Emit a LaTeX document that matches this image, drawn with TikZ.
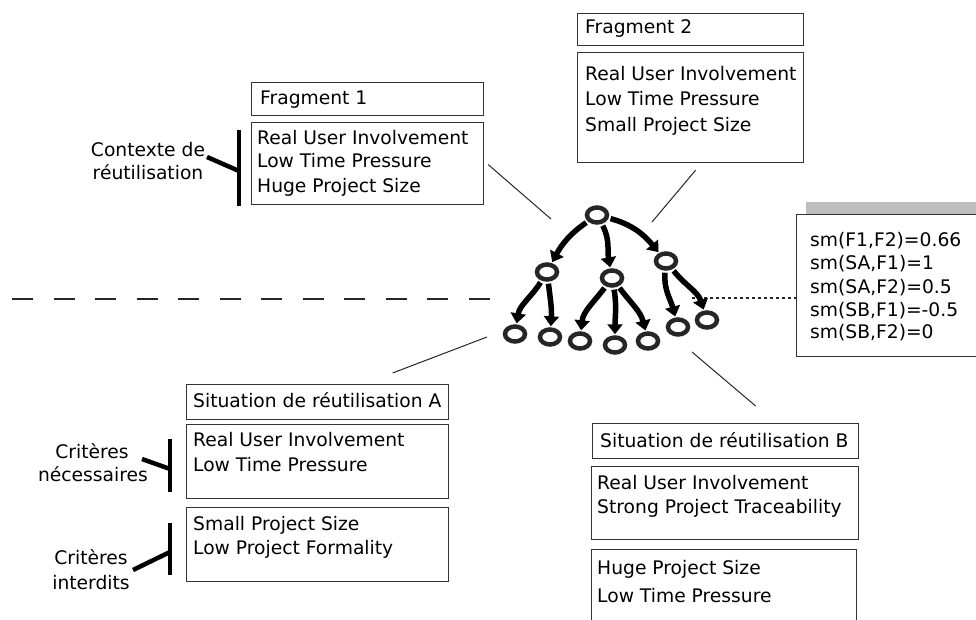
\documentclass[tikz,border=0pt]{standalone}
\usepackage{fontspec}
\setmainfont{DejaVu Sans}
\usetikzlibrary{shapes.geometric,arrows.meta,calc}
\begin{document}
\begin{tikzpicture}[x=1pt,y=1pt,
  box/.style={draw=black!80,line width=1.2pt,anchor=north west,inner sep=0pt},
  txt/.style={anchor=base west,inner sep=0pt,font=\fontsize{18.7}{22}\selectfont},
  ctxt/.style={anchor=base,inner sep=0pt,font=\fontsize{18.7}{22}\selectfont},
  ring/.style={draw=black!85,ellipse,line width=4.5pt,minimum width=20pt,minimum height=15pt,inner sep=0pt},
  tarrow/.style={line width=5.5pt,black,-{Triangle[width=15pt,length=10pt]},shorten <=2pt,shorten >=1pt},
  thinline/.style={line width=1pt,black!85},
  bracket/.style={line width=4.5pt,black}
]
\useasboundingbox (0,0) rectangle (976,-620);
\clip (0,0) rectangle (976,-620);

% ---------- Fragment 1
\node[box,minimum width=232pt,minimum height=33pt] (f1t) at (251,-82) {};
\node[box,minimum width=232pt,minimum height=82pt] (f1c) at (251,-122) {};
\node[txt] (f1tt) at (260,-104.7) {Fragment 1};
\node[txt] (f1a) at (257,-144.7) {Real User Involvement};
\node[txt] (f1b) at (257,-167.7) {Low Time Pressure};
\node[txt] (f1d) at (257,-192.7) {Huge Project Size};
\node[ctxt] (ctx1) at (148,-156.7) {Contexte de};
\node[ctxt] (ctx2) at (148,-179.7) {réutilisation};
\coordinate (b1t) at (239,-130);
\coordinate (b1b) at (239,-206);
\coordinate (b1d) at (207,-157);
\draw[bracket] (b1t) -- (b1b);
\draw[bracket] (b1d) -- (239,-171);

% ---------- Fragment 2
\node[box,minimum width=226pt,minimum height=32pt] (f2t) at (577,-13) {};
\node[box,minimum width=226pt,minimum height=110pt] (f2c) at (577,-52) {};
\node[txt] (f2tt) at (585,-33.7) {Fragment 2};
\node[txt] (f2a) at (585,-80.7) {Real User Involvement};
\node[txt] (f2b) at (585,-105.7) {Low Time Pressure};
\node[txt] (f2d) at (585,-131.7) {Small Project Size};

% ---------- Situation A
\node[box,minimum width=262pt,minimum height=35pt] (sat) at (186,-384) {};
\node[box,minimum width=262pt,minimum height=74pt] (sa1) at (186,-424) {};
\node[box,minimum width=262pt,minimum height=74pt] (sa2) at (186,-507) {};
\node[txt] (satt) at (193,-407.7) {Situation de réutilisation A};
\node[txt] (saa) at (193,-446.7) {Real User Involvement};
\node[txt] (sab) at (193,-471.7) {Low Time Pressure};
\node[txt] (sac) at (193,-530.7) {Small Project Size};
\node[txt] (sad) at (193,-554.7) {Low Project Formality};
\node[ctxt] (cn1) at (92,-458.7) {Critères};
\node[ctxt] (cn2) at (93,-481.7) {nécessaires};
\node[ctxt] (ci1) at (91,-564.7) {Critères};
\node[ctxt] (ci2) at (91,-589.7) {interdits};
\draw[bracket] (170,-439) -- (170,-492);
\draw[bracket] (142,-459) -- (170,-469);
\draw[bracket] (170,-523) -- (170,-575);
\draw[bracket] (133,-570) -- (170,-552);

% ---------- Situation B
\node[box,minimum width=266pt,minimum height=35pt] (sbt) at (592,-423) {};
\node[box,minimum width=267pt,minimum height=73pt] (sb1) at (591,-466) {};
\node[box,minimum width=265pt,minimum height=90pt] (sb2) at (591,-549) {};
\node[txt] (sbtt) at (600,-447.7) {Situation de réutilisation B};
\node[txt] (sba) at (597,-489.7) {Real User Involvement};
\node[txt] (sbb) at (597,-513.7) {Strong Project Traceability};
\node[txt] (sbc) at (597,-574.7) {Huge Project Size};
\node[txt] (sbd) at (597,-602.7) {Low Time Pressure};

% ---------- similarity box
\fill[black!25] (806,-202) rectangle (990,-214);
\node[box,minimum width=200pt,minimum height=142pt,fill=white] (smb) at (796,-214) {};
\node[txt] (sm1) at (810,-246.7) {sm(F1,F2)=0.66};
\node[txt] (sm2) at (810,-269.7) {sm(SA,F1)=1};
\node[txt] (sm3) at (810,-293.7) {sm(SA,F2)=0.5};
\node[txt] (sm4) at (810,-316.7) {sm(SB,F1)=-0.5};
\node[txt] (sm5) at (810,-338.7) {sm(SB,F2)=0};

% ---------- dashed lines
\coordinate (dl0) at (12,-299);
\coordinate (dl1) at (498,-299);
\draw[line width=1.3pt,black!85,dash pattern=on 21pt off 20.5pt] (dl0) -- (dl1);
\coordinate (dr0) at (692,-298);
\draw[line width=1.2pt,black!85,dash pattern=on 3pt off 3pt] (dr0) -- (dr0 -| smb.west);

% ---------- tree
\node[ring] (r) at (597,-215) {};
\node[ring] (na) at (547,-272) {};
\node[ring] (nb) at (612,-278) {};
\node[ring] (nc) at (666,-261) {};
\node[ring] (l1) at (515,-334) {};
\node[ring] (l2) at (550,-337) {};
\node[ring] (l3) at (580,-341) {};
\node[ring] (l4) at (615,-345) {};
\node[ring] (l5) at (648,-341) {};
\node[ring] (l6) at (678,-327) {};
\node[ring] (l7) at (707,-320) {};

\draw[tarrow] (r) to[out=215,in=62] (na);
\draw[tarrow] (r) to[out=298,in=100] (nb);
\draw[tarrow] (r) to[out=345,in=130] (nc);
\draw[tarrow] (na) to[out=238,in=81] (l1);
\draw[tarrow] (na) to[out=277,in=86] (l2);
\draw[tarrow] (nb) to[out=233,in=84] (l3);
\draw[tarrow] (nb) to[out=280,in=90] (l4);
\draw[tarrow] (nb) to[out=307,in=104] (l5);
\draw[tarrow] (nc) to[out=265,in=105] (l6);
\draw[tarrow] (nc) to[out=308,in=108] (l7);

% ---------- connectors to the tree
\coordinate (f1end) at (551,-219);
\coordinate (f2end) at (652,-222);
\coordinate (saend) at (487,-337);
\coordinate (sbbeg) at (692,-352);
\draw[thinline] ([xshift=4pt,yshift=-1pt]f1c.east) -- (f1end);
\draw[thinline] ([shift={(5pt,-7pt)}]f2c.south) -- (f2end);
\draw[thinline] ([shift={(75pt,11pt)}]sat.north) -- (saend);
\draw[thinline] (sbbeg) -- ([shift={(30pt,17pt)}]sbt.north);
\end{tikzpicture}
\end{document}
